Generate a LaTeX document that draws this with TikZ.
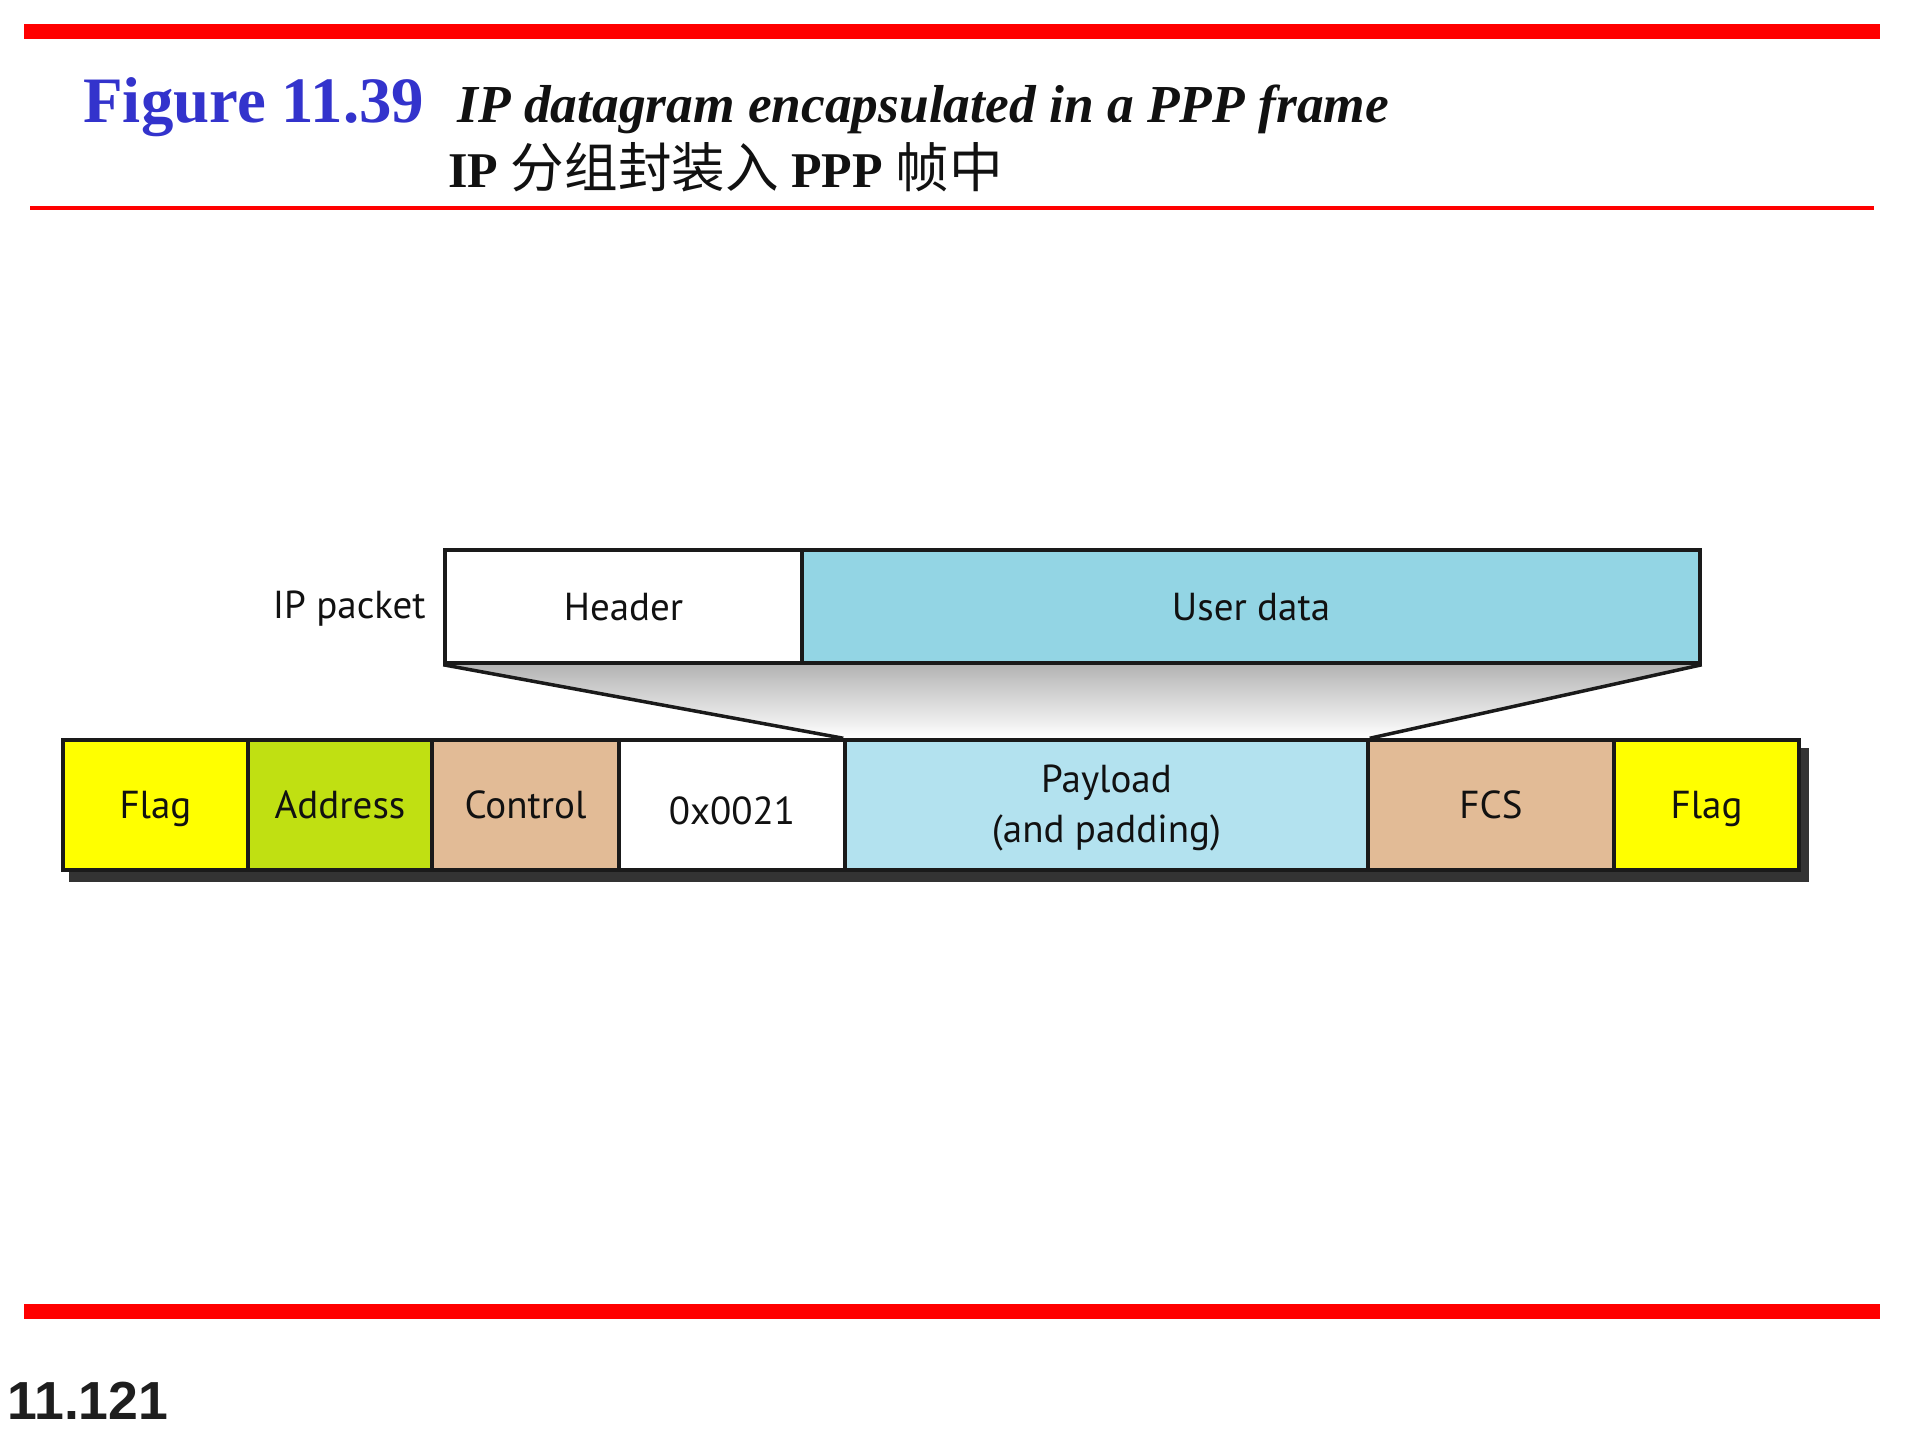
\documentclass[tikz,border=0pt]{standalone}
\usepackage{fontspec}
\setmainfont{Liberation Serif}
\newfontfamily\diagfont{PT Sans}
\newfontfamily\pagefont{Liberation Sans}
\newfontfamily\cjkfont{Noto Sans CJK SC}
\usetikzlibrary{backgrounds}
\definecolor{titleblue}{HTML}{3333CC}
\definecolor{barred}{HTML}{FF0000}
\definecolor{boxline}{HTML}{1A1A1A}
\definecolor{txt}{HTML}{111111}
\definecolor{flagyellow}{HTML}{FFFF00}
\definecolor{addrgreen}{HTML}{C0E012}
\definecolor{tan}{HTML}{E2BB96}
\definecolor{payblue}{HTML}{B3E2EF}
\definecolor{userblue}{HTML}{93D5E4}
\definecolor{shadowgray}{HTML}{333333}
\definecolor{shadetop}{HTML}{B4B4B4}
\definecolor{pagenum}{HTML}{1E1E1E}
\begin{document}
\begin{tikzpicture}[x=0.5pt,y=-0.5pt,
  field/.style={draw=boxline, line width=1.75pt, inner sep=0pt,
    text height=13.6pt, text depth=0pt, align=center, text=txt,
    font=\diagfont\fontsize{19.5}{25}\selectfont},
  plain/.style={inner sep=0pt, text=txt}]
\useasboundingbox (0,0) rectangle (1920,1440);
% red rules
\fill[barred] (24,24) rectangle (1880,39);
\fill[barred] (30,206) rectangle (1874,210);
\fill[barred] (24,1304) rectangle (1880,1319);
% title
\node[plain, anchor=base west, text=titleblue,
  font=\bfseries\fontsize{32.4}{36}\selectfont] (fig) at (83,122) {Figure 11.39};
\node[plain, anchor=base west,
  font=\bfseries\itshape\fontsize{26.7}{30}\selectfont] (cap) at (457,122)
  {IP datagram encapsulated in a PPP frame};
\node[plain, anchor=base west,
  font=\bfseries\fontsize{25}{30}\selectfont] (capzh) at (448,187)
  {IP {\cjkfont\mdseries\fontsize{26.8}{30}\selectfont 分组封装入} PPP {\cjkfont\mdseries\fontsize{26.8}{30}\selectfont 帧中}};
% IP packet
\node[field, fill=white, minimum width=178.5pt, minimum height=56.5pt] (header) at (623.5,606.5) {Header};
\node[field, fill=userblue, minimum width=449pt, minimum height=56.5pt] (udata) at (1251,606.5) {User data};
\node[plain, anchor=base east, font=\diagfont\fontsize{19.5}{25}\selectfont] (iplabel) at (426,618) {IP packet};
% PPP frame
\node[field, fill=flagyellow, minimum width=92.5pt, minimum height=65pt] (flag1) at (155.5,805) {Flag};
\node[field, fill=addrgreen, minimum width=92pt, minimum height=65pt] (addr) at (340,805) {Address};
\node[field, fill=tan, minimum width=93.5pt, minimum height=65pt] (ctrl) at (525.5,805) {Control};
\node[field, fill=white, minimum width=113pt, minimum height=65pt] (proto) at (732,805) {\raisebox{-3pt}{0x0021}};
\node[field, fill=payblue, minimum width=261.5pt, minimum height=65pt, text height=37pt, text depth=0pt] (payload) at (1106.5,805) {Payload\\(and padding)};
\node[field, fill=tan, minimum width=123pt, minimum height=65pt] (fcs) at (1491,805) {FCS};
\node[field, fill=flagyellow, minimum width=92.5pt, minimum height=65pt] (flag2) at (1706.5,805) {Flag};
% background: shadow and funnel
\begin{scope}[on background layer]
\fill[shadowgray] ([xshift=4pt,yshift=-5pt]flag1.south west) rectangle ([xshift=4pt,yshift=-5pt]flag2.north east);
\shade[top color=shadetop, bottom color=white]
  (header.south west) -- (udata.south east) -- (fcs.north west) -- (payload.north west) -- cycle;
\end{scope}
\draw[boxline, line width=1.75pt] (header.south west) -- (payload.north west);
\draw[boxline, line width=1.75pt] (udata.south east) -- (payload.north east);
% page number
\node[plain, anchor=base west, text=pagenum,
  font=\pagefont\bfseries\fontsize{26.8}{30}\selectfont] (pnum) at (7,1419) {11.121};
\end{tikzpicture}
\end{document}
